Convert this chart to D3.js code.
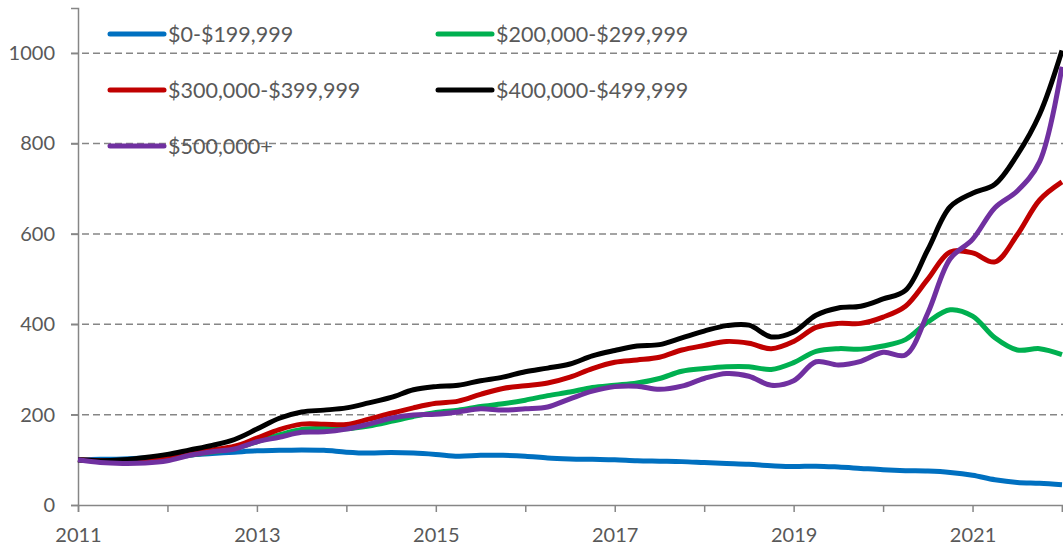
<!DOCTYPE html>
<html>
<head>
<meta charset="utf-8">
<script src="https://cdn.jsdelivr.net/npm/d3@7"></script>
<style>
  body { margin: 0; background: #fff; }
  text { font-family: Lato, "Liberation Sans", sans-serif; fill: #595959; }
</style>
</head>
<body>
<div id="chart"></div>
<script>
// quarterly index values, 2011 = 100
var years = d3.range(0, 45).map(function (i) { return 2011 + i * 0.25; });

var seriesNames = ["$0-$199,999", "$200,000-$299,999", "$300,000-$399,999", "$400,000-$499,999", "$500,000+"];
var seriesColors = ["#0070C0", "#00B050", "#C00000", "#000000", "#7030A0"];

var band0 = [100, 101, 102, 104, 107, 111, 114, 117, 120, 121, 122, 121, 117, 115, 116, 115,
  112, 108, 110, 110, 108, 104, 102, 101, 100, 98, 97, 96, 94, 92, 90, 87,
  85, 86, 84, 81, 78, 76, 75, 72, 66, 56, 50, 48, 45];
var band200 = [100, 97, 96, 98, 103, 110, 117, 125, 140, 155, 167, 170, 169, 175, 185, 196,
  205, 210, 218, 224, 232, 242, 250, 260, 265, 270, 280, 296, 302, 306, 306, 300,
  315, 340, 346, 345, 352, 366, 405, 432, 418, 370, 343, 346, 333];
var band300 = [100, 98, 98, 101, 106, 115, 122, 130, 148, 167, 179, 179, 178, 190, 203, 215,
  225, 230, 245, 258, 264, 270, 283, 302, 316, 321, 327, 343, 353, 362, 358, 346,
  362, 393, 402, 402, 416, 440, 500, 560, 558, 538, 598, 675, 715];
var band400 = [100, 98, 100, 105, 112, 122, 132, 145, 168, 192, 206, 210, 215, 226, 238, 255,
  262, 265, 275, 283, 295, 303, 312, 330, 342, 352, 355, 370, 385, 397, 398, 372,
  383, 420, 436, 440, 456, 475, 565, 660, 690, 710, 775, 865, 1006];
var band500 = [100, 94, 92, 93, 98, 110, 118, 124, 140, 150, 161, 162, 168, 179, 192, 199,
  201, 206, 213, 210, 213, 217, 235, 252, 262, 263, 256, 263, 280, 291, 285, 265,
  275, 317, 310, 318, 338, 332, 425, 545, 588, 658, 695, 760, 970];
var seriesValues = [band0, band200, band300, band400, band500];

var yTicks = [0, 200, 400, 600, 800, 1000];
var xLabelYears = [2011, 2013, 2015, 2017, 2019, 2021];

var width = 1063, height = 547;
var svg = d3.select("#chart").append("svg")
  .attr("width", width)
  .attr("height", height);

var x = d3.scaleLinear().domain([2011, 2022]).range([78, 1062]);
var y = d3.scaleLinear().domain([0, 1100]).range([505, 8]);

// gridlines
svg.append("g")
  .selectAll("line")
  .data(yTicks.filter(function (d) { return d > 0; }))
  .enter().append("line")
  .attr("x1", 71).attr("x2", width)
  .attr("y1", function (d) { return y(d); })
  .attr("y2", function (d) { return y(d); })
  .attr("stroke", "#868686")
  .attr("stroke-width", 1.5)
  .attr("stroke-dasharray", "7,4");

// y axis
var yAxis = svg.append("g")
  .attr("transform", "translate(78,0)")
  .call(d3.axisLeft(y).tickValues(yTicks).tickSize(7).tickPadding(16).tickFormat(d3.format("d")));
yAxis.select(".domain").attr("stroke", "#868686").attr("stroke-width", 1.5);
yAxis.selectAll(".tick line").attr("stroke", "#868686").attr("stroke-width", 1.5);
yAxis.selectAll("text").style("font-size", "20px").attr("fill", "#595959");

// x axis
var xAxis = svg.append("g")
  .attr("transform", "translate(0,505)")
  .call(d3.axisBottom(x).tickValues(d3.range(2011, 2023)).tickSize(7).tickPadding(16)
    .tickFormat(function (d) { return xLabelYears.indexOf(d) >= 0 ? d : ""; }));
xAxis.select(".domain").attr("stroke", "#868686").attr("stroke-width", 1.5);
xAxis.selectAll(".tick line").attr("stroke", "#868686").attr("stroke-width", 1.5);
xAxis.selectAll("text").style("font-size", "20px").attr("fill", "#595959");

// lines
var line = d3.line()
  .x(function (d, i) { return x(years[i]); })
  .y(function (d) { return y(d); })
  .curve(d3.curveCatmullRom.alpha(0.5));

svg.append("g")
  .selectAll("path")
  .data(seriesValues)
  .enter().append("path")
  .attr("d", line)
  .attr("fill", "none")
  .attr("stroke", function (d, i) { return seriesColors[i]; })
  .attr("stroke-width", 5)
  .attr("stroke-linejoin", "round");

// legend
var legendPos = [[110, 34], [438, 34], [110, 90], [438, 90], [110, 146]];
var legend = svg.append("g")
  .selectAll("g")
  .data(seriesNames)
  .enter().append("g")
  .attr("transform", function (d, i) { return "translate(" + legendPos[i][0] + "," + legendPos[i][1] + ")"; });
legend.append("line")
  .attr("x1", 0).attr("x2", 54)
  .attr("stroke", function (d, i) { return seriesColors[i]; })
  .attr("stroke-width", 5)
  .attr("stroke-linecap", "round");
legend.append("text")
  .attr("x", 58)
  .attr("dy", "0.35em")
  .style("font-size", "21.5px")
  .text(function (d) { return d; });
</script>
</body>
</html>
